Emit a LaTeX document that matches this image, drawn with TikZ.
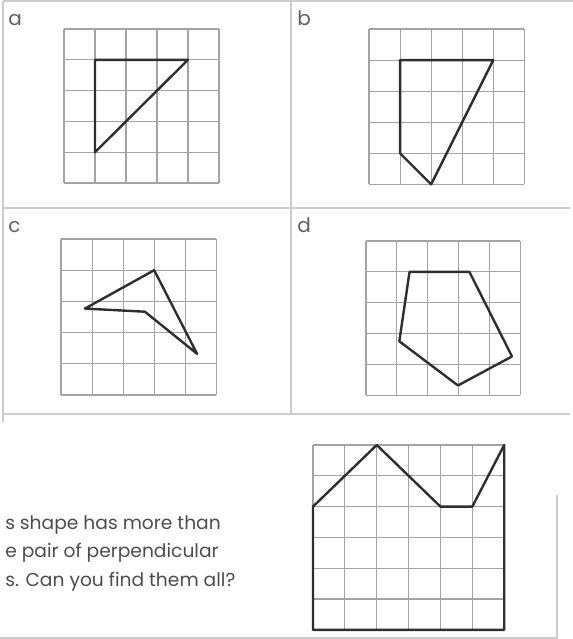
\documentclass[tikz,border=0pt]{standalone}
\usepackage{fontspec}
\setmainfont{Poppins}
\begin{document}
\begin{tikzpicture}[
  x=0.75pt, y=-0.75pt,
  frame/.style={draw=black!20, line width=1.4pt},
  gridline/.style={draw=black!36, line width=0.8pt},
  figline/.style={draw=black!82, line width=1.8pt, line join=round},
  lbl/.style={anchor=base west, inner sep=0pt, text=black!62, font=\fontsize{15}{17}\selectfont},
  note/.style={anchor=base west, inner sep=0pt, text=black!70, font=\fontsize{14}{16}\selectfont}
]
\useasboundingbox (0,0) rectangle (573,639);
% frames
\draw[frame] (3,1) -- (573,1);
\draw[frame] (3,1) -- (3,422);
\draw[frame] (291,1) -- (291,414);
\draw[frame] (3,208) -- (570,208);
\draw[frame] (3,414) -- (570,414);
\draw[frame] (557,495) -- (557,638) -- (0,638);
% labels
\node[lbl] (la) at (8,25) {a};
\node[lbl] (lb) at (297,25) {b};
\node[lbl] (lc) at (8,232) {c};
\node[lbl] (ld) at (297,232) {d};
% a
\begin{scope}[shift={(64,29)}, x=23.25pt, y=-23.1pt]
  \foreach \i in {0,...,5} {
    \draw[gridline] (\i,0) -- (\i,5);
    \draw[gridline] (0,\i) -- (5,\i);
  }
  \draw[figline] (1,1) -- (4,1) -- (1,4) -- cycle;
\end{scope}
% b
\begin{scope}[shift={(369,29)}, x=23.3pt, y=-23.3pt]
  \foreach \i in {0,...,5} {
    \draw[gridline] (\i,0) -- (\i,5);
    \draw[gridline] (0,\i) -- (5,\i);
  }
  \draw[figline] (1,1) -- (4,1) -- (2,5) -- (1,4) -- cycle;
\end{scope}
% c
\begin{scope}[shift={(61,239)}, x=23.3pt, y=-23.4pt]
  \foreach \i in {0,...,5} {
    \draw[gridline] (\i,0) -- (\i,5);
    \draw[gridline] (0,\i) -- (5,\i);
  }
  \draw[figline] (0.77,2.23) -- (3,1) -- (4.38,3.68) -- (2.7,2.33) -- cycle;
\end{scope}
% d
\begin{scope}[shift={(366,241)}, x=23.15pt, y=-23.15pt]
  \foreach \i in {0,...,5} {
    \draw[gridline] (\i,0) -- (\i,5);
    \draw[gridline] (0,\i) -- (5,\i);
  }
  \draw[figline] (1.41,1) -- (3.35,1) -- (4.73,3.74) -- (2.98,4.68) -- (1.08,3.25) -- cycle;
\end{scope}
% bottom shape
\begin{scope}[shift={(313,445)}, x=23.9pt, y=-23.1pt]
  \foreach \i in {0,...,6} {
    \draw[gridline] (\i,0) -- (\i,6);
    \draw[gridline] (0,\i) -- (6,\i);
  }
  \draw[figline] (0,2) -- (2,0) -- (4,2) -- (5,2) -- (6,0) -- (6,6) -- (0,6) -- cycle;
\end{scope}
% text
\node[note] (t1) at (5,529) {s shape has more than};
\node[note] (t2) at (5,557) {e pair of perpendicular};
\node[note] (t3) at (5,586) {s. Can you find them all?};
\end{tikzpicture}
\end{document}
